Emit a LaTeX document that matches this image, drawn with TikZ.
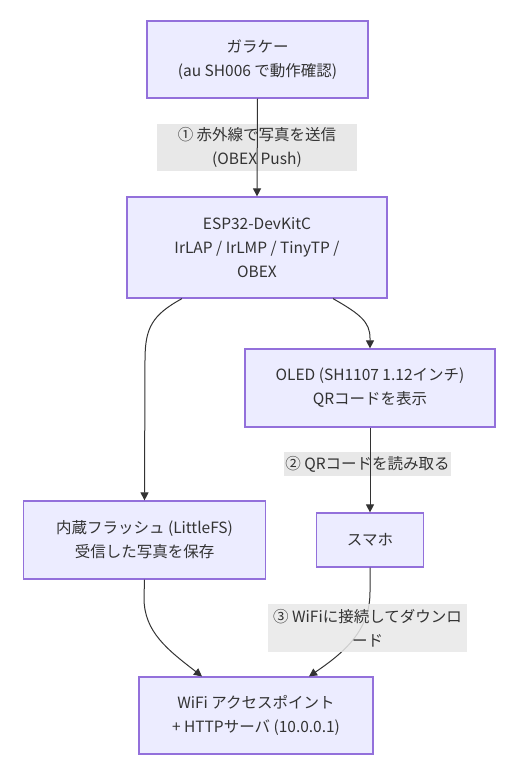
\documentclass[tikz,border=0pt]{standalone}
\usepackage{fontspec}
\setmainfont{Noto Sans CJK JP}
\usetikzlibrary{arrows.meta,calc}
\definecolor{nodefill}{HTML}{ECECFF}
\definecolor{nodeline}{HTML}{9370DB}
\definecolor{edgeline}{HTML}{333333}
\definecolor{txt}{HTML}{333333}
\definecolor{lblfill}{HTML}{E8E8E8}
\begin{document}
\begin{tikzpicture}[x=1pt,y=-1pt,
  box/.style={draw=nodeline,line width=1.2pt,fill=nodefill,rectangle,inner sep=0pt,
    align=center,text=txt,font=\fontsize{15.5}{24}\selectfont},
  lbl/.style={fill=lblfill,inner sep=0pt,align=center,text=txt,font=\fontsize{15.5}{24}\selectfont},
  conn/.style={draw=edgeline,line width=1pt,-{Triangle[length=8pt,width=8pt]}}]
\useasboundingbox (0,0) rectangle (526,769);

\node[box,minimum width=221pt,minimum height=77pt] (A) at (257.5,59.5) {ガラケー\\(au SH006 で動作確認)};
\node[box,minimum width=260pt,minimum height=101pt] (B) at (257,247.5) {ESP32-DevKitC\\IrLAP / IrLMP / TinyTP /\\OBEX};
\node[box,minimum width=250pt,minimum height=78pt] (C) at (370,388) {OLED (SH1107 1.12インチ)\\QRコードを表示};
\node[box,minimum width=242pt,minimum height=78pt] (D) at (144.5,540) {内蔵フラッシュ (LittleFS)\\受信した写真を保存};
\node[box,minimum width=107pt,minimum height=54pt] (E) at (370,540) {スマホ};
\node[box,minimum width=234pt,minimum height=77pt] (F) at (256,715.5) {WiFi アクセスポイント\\+ HTTPサーバ (10.0.0.1)};

\node[lbl,minimum width=200pt,minimum height=47pt] (L1) at (257,147.5) {① 赤外線で写真を送信\\(OBEX Push)};
\node[lbl,minimum width=167pt,minimum height=24pt] (L2) at (367.5,464) {② QRコードを読み取る};

\draw[conn] (A.south) -- (B.north);
\draw[conn] ($(B.south)+(-75,0)$) .. controls (152,315) and (145,328) .. (145,360) -- (D.north);
\draw[conn] ($(B.south)+(76,0)$) .. controls (360,314) and (370,322) .. (370,338) -- (C.south |- C.north);
\draw[conn] (C.south) -- (E.north);
\draw[conn] (D.south) -- (144,598) .. controls (144,632) and (168,650) .. ($(F.north)+(-54,0)$);
\draw[conn] (E.south) -- (370,592) .. controls (370,630) and (345,652) .. ($(F.north)+(53,0)$);

\node[lbl,fill opacity=0.85,text opacity=1,minimum width=199pt,minimum height=48pt] (L3) at (367.5,628) {③ WiFiに接続してダウンロ\\ード};
\end{tikzpicture}
\end{document}
